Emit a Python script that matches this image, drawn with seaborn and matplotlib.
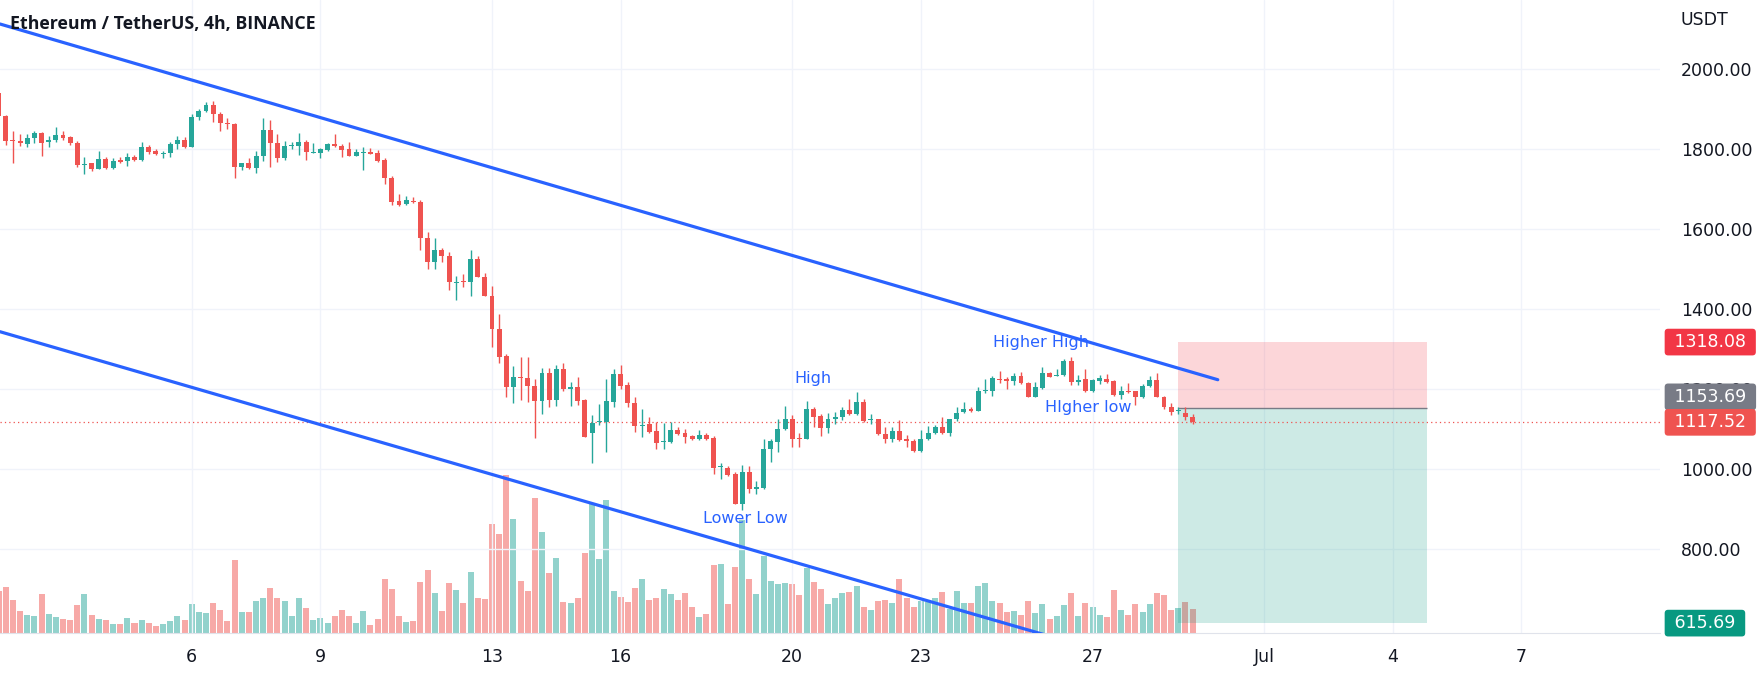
import numpy as np
import pandas as pd
import matplotlib.pyplot as plt
import matplotlib.dates as mdates
import seaborn as sns

# ETH/USDT 4h candles, Jun 1 12:00 -> Jun 29 08:00
opens = [1940, 1883, 1823, 1821, 1813, 1827, 1841, 1817, 1822, 1835,
         1830, 1816, 1761, 1765, 1751, 1775, 1754, 1772, 1770, 1781,
         1772, 1805, 1795, 1788, 1790, 1812, 1822, 1806, 1881, 1895,
         1911, 1888, 1866, 1863, 1756, 1765, 1754, 1782, 1848, 1815,
         1779, 1807, 1808, 1817, 1791, 1791, 1798, 1814, 1809, 1800,
         1784, 1790, 1792, 1790, 1773, 1728, 1671, 1662, 1671, 1667,
         1577, 1517, 1548, 1533, 1466, 1469, 1469, 1526, 1480, 1434,
         1351, 1284, 1207, 1232, 1229, 1208, 1172, 1242, 1173, 1251,
         1200, 1205, 1173, 1090, 1118, 1119, 1169, 1238, 1211, 1165,
         1109, 1113, 1096, 1068, 1068, 1098, 1090, 1083, 1076, 1085,
         1079, 1006, 1004, 988, 913, 993, 952, 954, 1052, 1069,
         1100, 1127, 1079, 1077, 1152, 1133, 1104, 1127, 1130, 1148,
         1138, 1169, 1123, 1126, 1088, 1075, 1096, 1075, 1071, 1047,
         1075, 1090, 1107, 1090, 1126, 1143, 1150, 1147, 1196, 1196,
         1227, 1225, 1221, 1233, 1215, 1182, 1204, 1242, 1233, 1236,
         1272, 1219, 1226, 1196, 1222, 1227, 1221, 1186, 1197, 1196,
         1180, 1208, 1223, 1182, 1155, 1146, 1142, 1130]
highs = [1950, 1885, 1846, 1837, 1837, 1846, 1844, 1834, 1855, 1846,
         1832, 1821, 1780, 1766, 1796, 1780, 1777, 1780, 1790, 1785,
         1818, 1811, 1801, 1796, 1817, 1833, 1830, 1887, 1900, 1918,
         1921, 1892, 1879, 1866, 1766, 1777, 1796, 1877, 1873, 1837,
         1821, 1817, 1840, 1822, 1815, 1802, 1815, 1837, 1812, 1819,
         1800, 1805, 1804, 1798, 1779, 1732, 1687, 1683, 1680, 1672,
         1592, 1579, 1554, 1542, 1482, 1488, 1548, 1534, 1490, 1457,
         1388, 1288, 1259, 1280, 1282, 1225, 1253, 1253, 1261, 1267,
         1219, 1230, 1177, 1136, 1163, 1227, 1251, 1261, 1219, 1180,
         1152, 1132, 1119, 1115, 1119, 1107, 1100, 1086, 1098, 1092,
         1083, 1017, 1008, 994, 1011, 1008, 972, 1077, 1077, 1127,
         1158, 1136, 1090, 1171, 1155, 1138, 1140, 1144, 1157, 1177,
         1194, 1175, 1138, 1127, 1107, 1107, 1123, 1086, 1077, 1098,
         1108, 1111, 1130, 1127, 1155, 1169, 1155, 1207, 1225, 1234,
         1246, 1232, 1242, 1244, 1219, 1219, 1257, 1244, 1251, 1277,
         1280, 1236, 1250, 1227, 1236, 1238, 1223, 1208, 1217, 1196,
         1213, 1233, 1240, 1184, 1165, 1155, 1155, 1138]
lows = [1878, 1811, 1766, 1808, 1805, 1816, 1783, 1805, 1819, 1823,
        1810, 1756, 1738, 1746, 1750, 1750, 1751, 1766, 1759, 1771,
        1771, 1788, 1786, 1777, 1781, 1800, 1804, 1806, 1873, 1892,
        1869, 1846, 1850, 1727, 1748, 1750, 1740, 1771, 1756, 1769,
        1773, 1800, 1786, 1773, 1790, 1779, 1796, 1805, 1780, 1782,
        1783, 1747, 1788, 1767, 1713, 1661, 1658, 1661, 1666, 1548,
        1500, 1500, 1519, 1448, 1423, 1455, 1432, 1480, 1432, 1307,
        1265, 1180, 1167, 1173, 1169, 1078, 1138, 1155, 1158, 1196,
        1158, 1161, 1082, 1015, 1111, 1044, 1155, 1201, 1157, 1094,
        1082, 1092, 1052, 1052, 1067, 1086, 1065, 1073, 1073, 1073,
        988, 975, 984, 913, 898, 942, 938, 952, 1019, 1044,
        1098, 1055, 1057, 1076, 1107, 1083, 1092, 1113, 1123, 1136,
        1136, 1119, 1113, 1086, 1067, 1069, 1072, 1055, 1044, 1044,
        1073, 1088, 1088, 1084, 1122, 1142, 1143, 1147, 1190, 1183,
        1215, 1202, 1211, 1213, 1180, 1180, 1202, 1230, 1233, 1233,
        1211, 1211, 1194, 1194, 1213, 1217, 1183, 1175, 1190, 1161,
        1178, 1207, 1180, 1151, 1136, 1138, 1123, 1113]
closes = [1883, 1821, 1820, 1815, 1827, 1841, 1816, 1823, 1835, 1829,
          1815, 1761, 1764, 1751, 1775, 1753, 1771, 1769, 1780, 1772,
          1805, 1794, 1788, 1790, 1813, 1822, 1806, 1881, 1895, 1911,
          1887, 1865, 1863, 1756, 1765, 1753, 1783, 1848, 1815, 1779,
          1808, 1811, 1819, 1792, 1792, 1800, 1812, 1807, 1798, 1784,
          1792, 1792, 1789, 1771, 1727, 1669, 1661, 1672, 1667, 1577,
          1517, 1548, 1533, 1468, 1469, 1467, 1526, 1480, 1434, 1351,
          1282, 1207, 1232, 1228, 1208, 1172, 1240, 1173, 1252, 1200,
          1205, 1171, 1082, 1117, 1121, 1171, 1238, 1209, 1165, 1109,
          1112, 1094, 1067, 1071, 1098, 1088, 1082, 1076, 1085, 1076,
          1003, 1008, 987, 913, 993, 952, 955, 1052, 1071, 1101,
          1127, 1077, 1076, 1152, 1132, 1104, 1127, 1131, 1148, 1138,
          1169, 1122, 1126, 1088, 1075, 1096, 1073, 1072, 1047, 1076,
          1090, 1107, 1090, 1126, 1142, 1150, 1147, 1196, 1198, 1229,
          1223, 1222, 1233, 1215, 1182, 1205, 1242, 1232, 1237, 1272,
          1219, 1223, 1196, 1223, 1229, 1219, 1186, 1197, 1193, 1182,
          1208, 1223, 1182, 1155, 1143, 1148, 1130, 1117.52]
# volume, thousand ETH
volumes = [126, 138, 98, 65, 53, 50, 116, 58, 47, 41,
           38, 83, 116, 53, 41, 38, 26, 26, 44, 29,
           38, 29, 20, 26, 35, 50, 38, 86, 62, 59,
           89, 68, 35, 218, 62, 62, 95, 104, 134, 104,
           95, 50, 104, 74, 38, 44, 29, 50, 68, 50,
           29, 65, 23, 41, 161, 131, 50, 32, 35, 152,
           188, 119, 65, 149, 128, 89, 182, 104, 101, 326,
           296, 473, 341, 155, 125, 404, 302, 179, 224, 92,
           89, 104, 239, 386, 221, 398, 125, 107, 92, 134,
           161, 98, 104, 131, 116, 98, 119, 77, 47, 56,
           203, 206, 86, 197, 338, 161, 116, 230, 155, 146,
           149, 146, 113, 194, 152, 131, 86, 104, 119, 122,
           140, 77, 68, 95, 98, 89, 161, 104, 77, 95,
           92, 104, 122, 71, 125, 89, 89, 140, 149, 95,
           89, 62, 65, 53, 95, 59, 86, 41, 50, 83,
           119, 50, 89, 77, 53, 47, 128, 68, 53, 86,
           62, 86, 119, 113, 68, 74, 92, 71]

# drawings
upper_line_t = ['2022-06-01 12:45', '2022-06-29 22:05']
upper_line_p = [2113, 1224]
lower_line_t = ['2022-06-01 12:45', '2022-06-26 00:00']
lower_line_p = [1344, 583]
pos_t = ['2022-06-29 00:00', '2022-07-04 19:00']
stop_price = 1318.08
entry_price = 1153.69
target_price = 615.69

notes = ['Higher High', 'HIgher low', 'High', 'Lower Low']
notes_t = ['2022-06-25 19:10', '2022-06-26 21:35', '2022-06-20 11:30', '2022-06-18 21:35']
notes_p = [1316, 1155, 1228, 876]

tick_dates = ['2022-06-06', '2022-06-09', '2022-06-13', '2022-06-16', '2022-06-20',
              '2022-06-23', '2022-06-27', '2022-07-01', '2022-07-04', '2022-07-07']
tick_labels = ['6', '9', '13', '16', '20', '23', '27', 'Jul', '4', '7']
price_ticks = [800, 1000, 1200, 1400, 1600, 1800, 2000]

UP, DOWN = '#26a69a', '#ef5350'
BLUE = '#2962ff'
TXT = '#131722'

df = pd.DataFrame({'time': pd.date_range('2022-06-01 12:00', periods=len(closes), freq='4h'),
                   'open': opens, 'high': highs, 'low': lows, 'close': closes, 'volume': volumes})
df['t'] = mdates.date2num(df['time'])
df['up'] = df['close'] >= df['open']

sns.set_style('white')
plt.rcParams['font.family'] = ['DejaVu Sans']

fig = plt.figure(figsize=(17.61, 6.75), dpi=100)
ax = fig.add_axes([0, 42 / 675, 1660 / 1761, 633 / 675])
ax2 = ax.twinx()
ax.set_zorder(2)
ax2.set_zorder(1)
ax.patch.set_visible(False)

# volume
ax2.bar(df['t'], df['volume'], width=0.14, linewidth=0,
        color=np.where(df['up'], '#92d2cc', '#f7a9a7'))
ax2.set_ylim(0, 1899)
ax2.set_yticks([])
ax2.grid(False)
for s in ax2.spines.values():
    s.set_visible(False)

# long position box
pt = mdates.date2num(pd.to_datetime(pos_t))
ax.fill_between(pt, entry_price, stop_price, color='#f23645', alpha=0.2, lw=0, zorder=1.5)
ax.fill_between(pt, target_price, entry_price, color='#089981', alpha=0.2, lw=0, zorder=1.5)
ax.hlines(entry_price, pt[0], pt[1], color='#787b86', lw=1, zorder=1.6)

# candles
cols = np.where(df['up'], UP, DOWN)
ax.vlines(df['t'], df['low'], df['high'], colors=cols, lw=1, zorder=3)
body = (df['close'] - df['open']).abs().clip(lower=2.5)
ax.bar(df['t'], body, bottom=df[['open', 'close']].min(axis=1), width=0.115,
       color=cols, linewidth=0, zorder=3.5)

# last price
ax.axhline(closes[-1], color=DOWN, lw=0.9, ls=(0, (1, 2.5)), zorder=2)

# channel lines
sns.lineplot(x=mdates.date2num(pd.to_datetime(upper_line_t)), y=upper_line_p,
             ax=ax, color=BLUE, lw=2.3, zorder=4)
sns.lineplot(x=mdates.date2num(pd.to_datetime(lower_line_t)), y=lower_line_p,
             ax=ax, color=BLUE, lw=2.3, zorder=4)

for txt, tt, pp in zip(notes, notes_t, notes_p):
    ax.text(mdates.date2num(pd.Timestamp(tt)), pp, txt, ha='center', va='center',
            color=BLUE, fontsize=11.5, zorder=5)

ax.set_xlim(mdates.date2num(pd.Timestamp('2022-06-01 12:45')),
            mdates.date2num(pd.Timestamp('2022-07-10 05:30')))
ax.set_ylim(591, 2173)
ax.set_xticks(mdates.date2num(pd.to_datetime(tick_dates)))
ax.set_xticklabels(tick_labels)
ax.yaxis.tick_right()
ax.set_yticks(price_ticks)
ax.set_yticklabels([f'{p:.2f}' for p in price_ticks])
ax.tick_params(axis='x', length=0, pad=11, labelsize=12.5, labelcolor=TXT)
ax.tick_params(axis='y', length=0, pad=15, labelsize=12.5, labelcolor=TXT)
ax.set_xlabel('')
ax.set_ylabel('')
ax.grid(True, color='#f0f3fa', lw=1)
for name, s in ax.spines.items():
    s.set_visible(name == 'bottom')
ax.spines['bottom'].set_color('#e0e3eb')

# price scale labels (the grey entry label sits over the 1200 tick, as in TradingView)
labels = [(stop_price, '#f23645', 0), (entry_price, '#787b86', 11),
          (closes[-1], DOWN, 0), (target_price, '#089981', 0)]
for val, c, dy in labels:
    ax.annotate(f' {val:.2f} ', xy=(1, val), xycoords=ax.get_yaxis_transform(),
                xytext=(9, dy), textcoords='offset pixels', ha='left', va='center',
                color='white', fontsize=12.5, annotation_clip=False, zorder=6,
                bbox=dict(boxstyle='round,pad=0.25,rounding_size=0.2', fc=c, ec='none'))

fig.text(1681 / 1761, 1 - 20 / 675, 'USDT', fontsize=12.5, color=TXT, va='center')
fig.text(10 / 1761, 1 - 24 / 675, 'Ethereum / TetherUS, 4h, BINANCE', fontsize=12.8,
         fontweight='bold', color=TXT, va='center', family=['Open Sans', 'DejaVu Sans'])

fig.savefig('out.png', dpi=100, facecolor='white')
